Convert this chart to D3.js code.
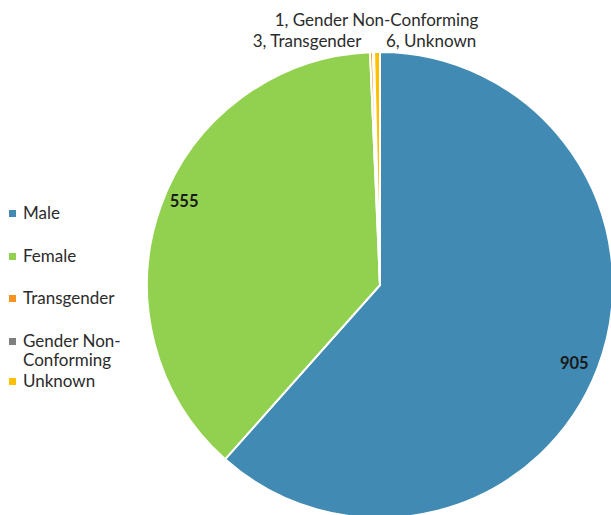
<!DOCTYPE html>
<html><head><meta charset="utf-8">
<script src="https://cdn.jsdelivr.net/npm/d3@7/dist/d3.min.js"></script>
<style>body{margin:0;background:#fff}svg{display:block}text{font-family:Lato,"Open Sans",sans-serif}</style>
</head><body>
<svg id="c" width="611" height="515"></svg>
<script>
const categories = ["Male","Female","Transgender","Gender Non-Conforming","Unknown"];
const values = [905, 555, 3, 1, 6];
const colors = ["#418ab3","#92d050","#f59321","#7f7f7f","#ffc000"];
const legendLabels = [["Male"],["Female"],["Transgender"],["Gender Non-","Conforming"],["Unknown"]];

const svg = d3.select("#c");
const cx = 380, cy = 285, R = 233;
const data = categories.map((c,i)=>({cat:c, value:values[i], color:colors[i]}));
const pie = d3.pie().value(d=>d.value).sort(null);
const arcs = pie(data);
const arc = d3.arc().innerRadius(0).outerRadius(R);
const g = svg.append("g").attr("transform",`translate(${cx},${cy})`);
g.selectAll("path").data(arcs).join("path")
  .attr("d",arc).attr("fill",d=>d.data.color)
  .attr("stroke","#fff").attr("stroke-width",2).attr("stroke-linejoin","round");

// inside labels for big slices
const labelArc = d3.arc().innerRadius(210).outerRadius(210);
g.selectAll("text.in").data(arcs.filter(d=>d.data.value>100)).join("text")
  .attr("class","in")
  .attr("transform",(d,i)=>{const [x,y]=labelArc.centroid(d);return `translate(${x + (i===1?2:-2)},${y + (i===1?-12:5)})`;})
  .attr("text-anchor","middle").attr("dominant-baseline","middle")
  .attr("font-weight","bold").attr("font-size",16.5).attr("fill","#1a1a1a")
  .text(d=>d.data.value);

// outside labels for small slices
const small = arcs.filter(d=>d.data.value<100);
const outPos = {"Transgender":{dx:-10,dy:-5,anchor:"end"},
                "Gender Non-Conforming":{dx:3,dy:-26,anchor:"middle"},
                "Unknown":{dx:9,dy:-5,anchor:"start"}};
small.forEach(d=>{
  const p = outPos[d.data.cat];
  const a = (d.startAngle+d.endAngle)/2;
  const x = Math.sin(a)*R, y = -Math.cos(a)*R;
  g.append("text").attr("x",x+p.dx).attr("y",y+p.dy)
    .attr("text-anchor",p.anchor).attr("font-size",17).attr("fill","#2b2b2b")
    .text(`${d.data.value}, ${d.data.cat}`);
});

// legend
const lg = svg.append("g");
const ly = [219, 262, 304, 347, 387];
legendLabels.forEach((lines,i)=>{
  lg.append("rect").attr("x",9).attr("y",ly[i]-9).attr("width",7).attr("height",7).attr("fill",colors[i]);
  lines.forEach((t,j)=>{
    lg.append("text").attr("x",23).attr("y",ly[i]+j*19).attr("font-size",17).attr("fill","#2b2b2b").text(t);
  });
});
</script>
</body></html>
